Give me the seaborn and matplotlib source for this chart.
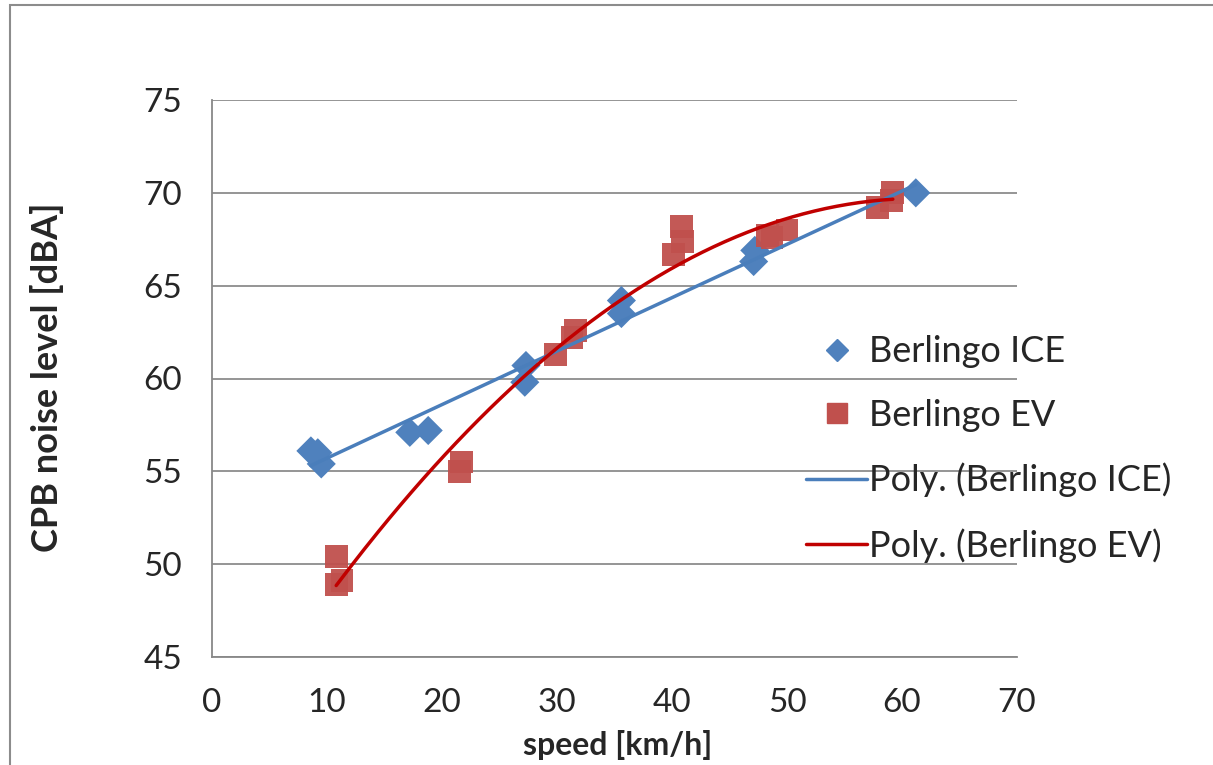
import numpy as np
import pandas as pd
import matplotlib
matplotlib.use("Agg")
import matplotlib.pyplot as plt
import seaborn as sns
from matplotlib.lines import Line2D
from matplotlib.patches import Rectangle

# Data
ice_speed = [8.6, 9.2, 9.5, 17.2, 18.8, 27.3, 27.2, 35.6, 35.6, 47.1, 47.2, 61.2]
ice_level = [56.1, 56.0, 55.4, 57.1, 57.2, 60.7, 59.8, 64.2, 63.5, 66.3, 66.9, 70.0]
ev_speed = [10.8, 10.8, 11.3, 21.5, 21.7, 29.9, 31.3, 31.6, 40.8, 40.9, 40.1, 48.3, 50.0, 48.7, 57.9, 59.2, 59.1]
ev_level = [50.4, 48.9, 49.1, 55.0, 55.5, 61.3, 62.2, 62.6, 68.2, 67.4, 66.7, 67.7, 68.0, 67.6, 69.2, 70.0, 69.6]
x_ticks = [0, 10, 20, 30, 40, 50, 60, 70]
y_ticks = [45, 50, 55, 60, 65, 70, 75]
labels = ["Berlingo ICE", "Berlingo EV", "Poly. (Berlingo ICE)", "Poly. (Berlingo EV)"]

ICE_C = "#4F81BD"
EV_C = "#C0504D"
ICE_L = "#4A7EBB"
EV_L = "#C00000"

sns.set_style("white")
plt.rcParams["font.family"] = ["Lato", "DejaVu Sans"]

fig = plt.figure(figsize=(12.13, 7.65), dpi=100)
ax = fig.add_axes([212/1213, 1-657/765, (1017-212)/1213, (657-100)/765])

df_ice = pd.DataFrame({"speed": ice_speed, "level": ice_level})
df_ev = pd.DataFrame({"speed": ev_speed, "level": ev_level})

# polynomial trend lines (order 2)
def trend(df):
    c = np.polyfit(df["speed"], df["level"], 2)
    xs = np.linspace(df["speed"].min(), df["speed"].max(), 200)
    return pd.DataFrame({"speed": xs, "level": np.polyval(c, xs)})

t_ice = trend(df_ice)
t_ev = trend(df_ev)

sns.scatterplot(data=df_ice, x="speed", y="level", ax=ax, marker="D", s=220,
                color=ICE_C, edgecolor="none", zorder=3)
sns.scatterplot(data=df_ev, x="speed", y="level", ax=ax, marker="s", s=270,
                color=EV_C, edgecolor="none", alpha=0.95, zorder=3)
sns.lineplot(data=t_ice, x="speed", y="level", ax=ax, color=ICE_L, lw=2.5, zorder=4)
sns.lineplot(data=t_ev, x="speed", y="level", ax=ax, color=EV_L, lw=2.5, zorder=4)

ax.set_xlim(0, 70)
ax.set_ylim(45, 75)
ax.set_xticks(x_ticks)
ax.set_yticks(y_ticks)
ax.tick_params(axis="both", labelsize=24, length=5.5, color="#888888", width=1.2,
               direction="out")
ax.tick_params(axis="x", pad=17)
ax.tick_params(axis="y", pad=16)
ax.yaxis.grid(True, color="#8C8C8C", lw=1.3)
ax.xaxis.grid(False)
for s in ["top", "right"]:
    ax.spines[s].set_visible(False)
for s in ["left", "bottom"]:
    ax.spines[s].set_color("#888888")
    ax.spines[s].set_linewidth(1.3)
ax.set_xlabel("speed [km/h]", fontsize=23, fontweight="bold", va="center")
ax.set_ylabel("CPB noise level [dBA]", fontsize=26, fontweight="bold", va="center")
ax.xaxis.set_label_coords((618-212)/805, -(745-657)/557)
ax.yaxis.set_label_coords((47-212)/805, 0.5 - (377-378.5)/557)

handles = [
    Line2D([], [], marker="D", color=ICE_C, ls="none", markersize=11),
    Line2D([], [], marker="s", color=EV_C, ls="none", markersize=14),
    Line2D([], [], color=ICE_L, lw=2.5),
    Line2D([], [], color=EV_L, lw=2.5),
]
leg = fig.legend(handles, labels, loc="center left", bbox_to_anchor=(806/1213, 1-449/765),
                 frameon=False, fontsize=26, handlelength=1.7, handletextpad=0.05,
                 labelspacing=0.85, borderpad=0, borderaxespad=0)

fig.patches.append(Rectangle((10/1213, -0.01), 1.2, 1-5/765 + 0.01, transform=fig.transFigure,
                             fill=False, edgecolor="#8C8C8C", lw=1.5))

fig.savefig("out.png", dpi=100)
